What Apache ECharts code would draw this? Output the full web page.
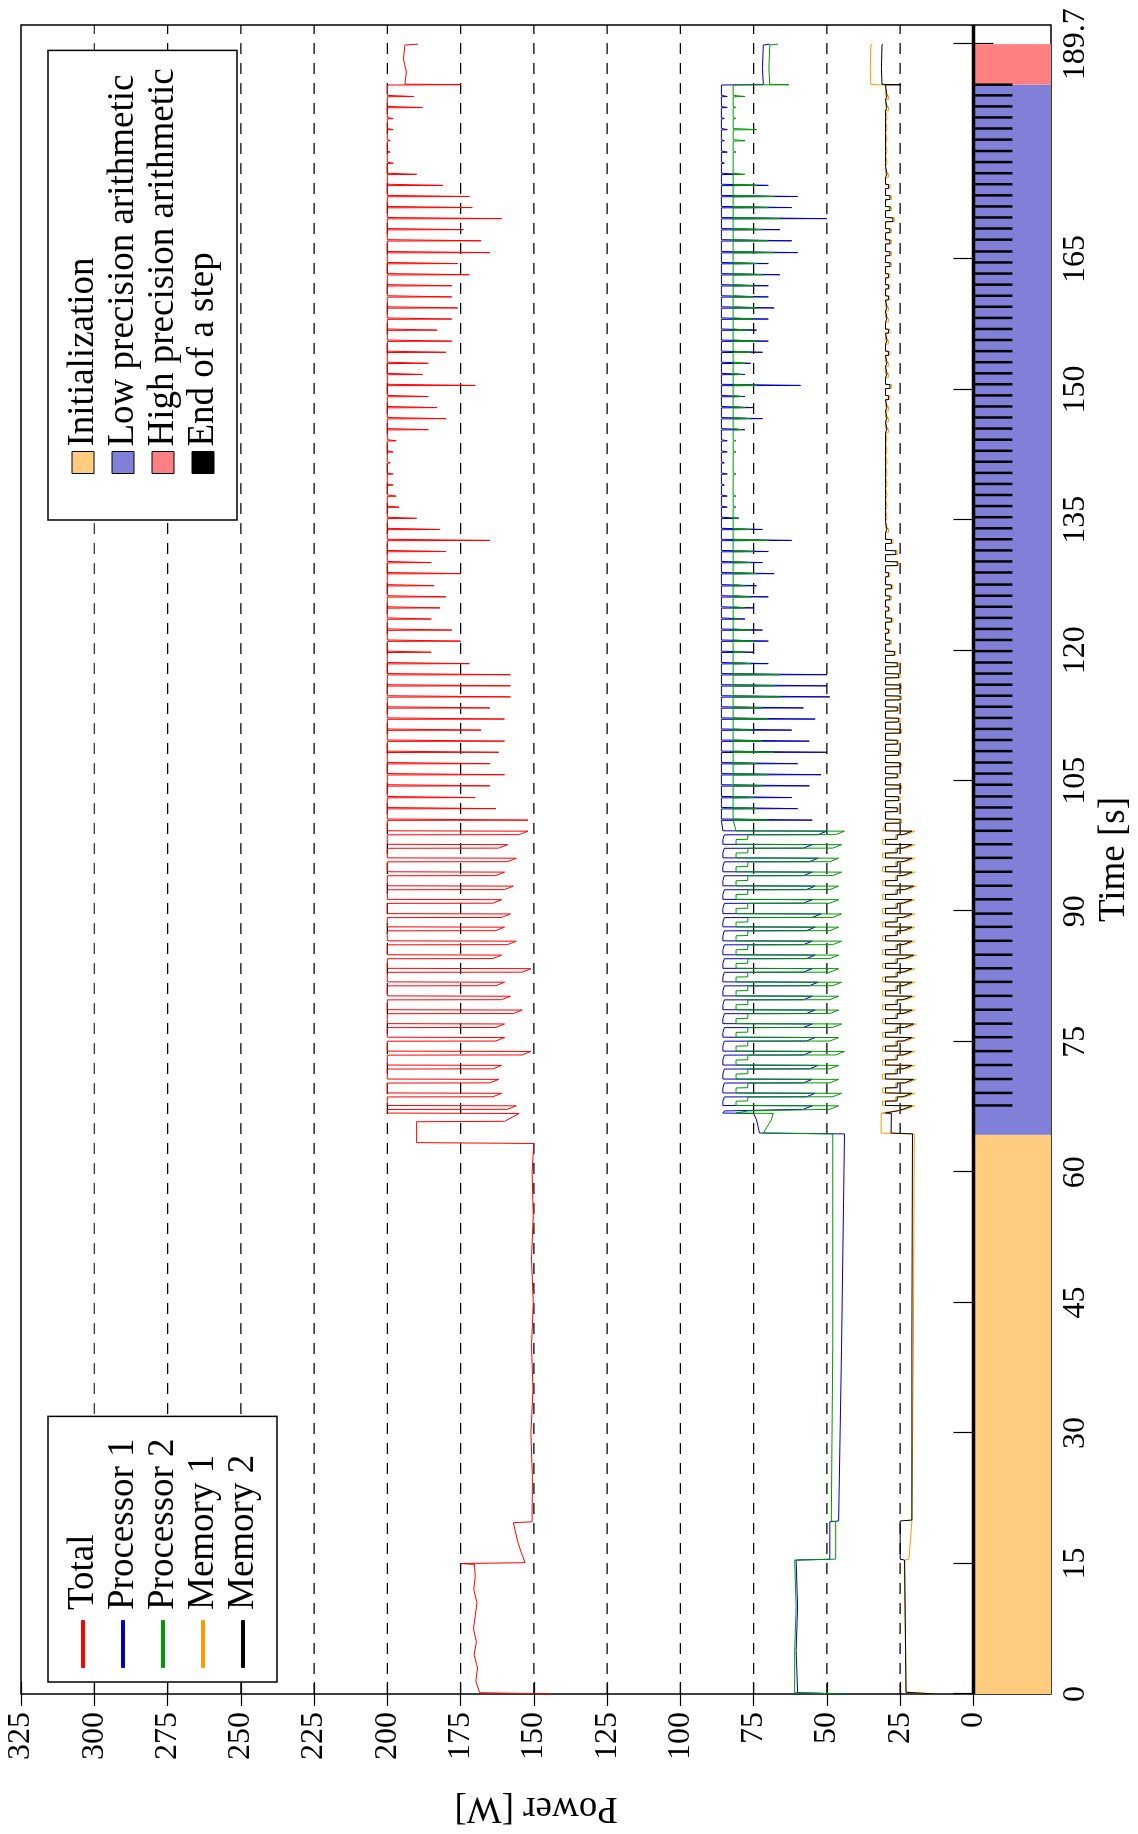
<!DOCTYPE html>
<html>
<head>
<meta charset="utf-8">
<script src="https://cdn.jsdelivr.net/npm/echarts@6/dist/echarts.min.js"></script>
<style>
  html, body { margin: 0; padding: 0; background: #fff; overflow: hidden; }
  #wrap { position: absolute; left: 0; top: 0; width: 1138px; height: 1834px; overflow: hidden; }
  /* the figure is drawn landscape and turned a quarter turn to the left */
  #main { position: absolute; left: 0; top: 0; width: 1834px; height: 1138px;
    transform-origin: 0 0; transform: translate(0, 1834px) rotate(-90deg); }
</style>
</head>
<body>
<div id="wrap"><div id="main"></div></div>
<script>
"use strict";

const timeTicks = [0, 15, 30, 45, 60, 75, 90, 105, 120, 135, 150, 165, 189.7];
const powerTicks = [0, 25, 50, 75, 100, 125, 150, 175, 200, 225, 250, 275, 300, 325];
const gridLevels = [25, 50, 75, 100, 125, 150, 175, 200, 225, 250, 275, 300];

// phase name, start [s], end [s], colour
const phases = [
  ["Initialization", 0, 64.3, "#ffcc80"],
  ["Low precision arithmetic", 64.3, 185.04, "#8080d8"],
  ["High precision arithmetic", 185.04, 189.7, "#ff8080"],
];

// end of each step [s]
const stepTimes = [
  67.67, 69.11, 70.71, 72.32, 73.92, 75.52, 77.08, 78.68, 80.27, 81.88, 83.44,
  85.0, 86.6, 88.21, 89.73, 91.37, 92.93, 94.54, 96.14, 97.7, 99.25,
  100.61, 101.93, 103.2, 104.55, 105.83, 107.1, 108.41, 109.69, 110.96, 112.23,
  113.51, 114.78, 116.05, 117.33, 118.6, 119.91, 121.19, 122.46, 123.73, 125.01,
  126.28, 127.56, 128.95, 130.22, 131.49, 132.77, 134.03, 135.31, 136.59, 137.86,
  139.13, 140.4, 141.68, 142.94, 144.22, 145.5, 146.77, 148.04, 149.31, 150.59,
  151.85, 153.13, 154.4, 155.68, 156.95, 158.22, 159.5, 160.77, 162.05, 163.32,
  164.6, 165.86, 167.22, 168.5, 169.77, 171.04, 172.31, 173.59, 174.86, 176.14,
  177.41, 178.72, 180.0, 181.27, 182.54, 183.81, 185.04,
];

// initialization phase, [t, W]
const totalInit = [
  [0, 144], [0.15, 168.5], [1.5, 169.8], [3, 169.2], [4.5, 170.4], [6, 169.6], [7.5, 170.6],
  [9, 170], [10.5, 169.4], [12, 170.5], [13.5, 170], [14.9, 170.3], [15.0, 175], [15.1, 153],
  [16, 154], [17.5, 155.5], [19.7, 157], [19.8, 150.6], [25, 150.5], [30, 151], [35, 150.3],
  [40, 150.8], [45, 150.2], [50, 150.8], [55, 150.2], [60, 150.6], [63.3, 150], [63.4, 190],
  [65.8, 190], [65.85, 160], [66.75, 155], [66.8, 200],
];
const proc1Init = [
  [0, 43], [0.15, 60], [5, 60.5], [10, 60], [15.4, 60.5], [15.5, 49], [19.8, 49], [19.9, 46],
  [40, 45], [64.4, 44], [64.5, 73], [66, 74], [66.75, 75], [66.8, 85.5],
];
const proc2Init = [
  [0, 43], [0.15, 61], [5, 61], [10, 60.5], [15.4, 61], [15.5, 47], [19.8, 47], [19.9, 48.5],
  [40, 48], [64.4, 48], [64.5, 71.7], [66, 69], [66.75, 68.3], [66.8, 81],
];
const mem1Init = [
  [0, 13], [0.2, 23], [15.4, 23.5], [15.5, 22], [19.9, 21], [40, 20.5], [64.4, 20.2],
  [64.5, 31.5], [66.75, 31.5], [66.8, 30],
];
const mem2Init = [
  [0, 13], [0.2, 23], [15.4, 23.5], [15.5, 25], [19.9, 25], [20, 21], [40, 21], [64.4, 20.8],
  [64.5, 28.1], [66.75, 28], [66.8, 30],
];

// compute steps: levels in a step (first part, second part) and value at the step's end
const totalLevelEarly = [200, 200];
const totalLevelLate = 200;
const totalDipEarly = [156, 161, 162, 161, 151, 160, 160, 154, 158, 160, 151, 161, 156, 160, 158, 161, 157, 160, 156, 159, 152];
const totalDipLate = [
  152, 163, 170, 165, 160, 165, 162, 160, 168, 160, 165, 158, 158, 158, 172, 185, 175, 178, 185, 182,
  180, 184, 175, 185, 180, 165, 182, 190, 196, 197, 198, 198, 199, 198, 197, 186, 180, 183, 186, 170,
  188, 186, 180, 178, 183, 178, 176, 178, 178, 172, 176, 165, 168, 174, 161, 171, 172, 181, 190, 198,
  199, 199, 198, 198, 188, 191,
];
const proc1LevelEarly = [85.5, 85];
const proc1LevelLate = 86;
const proc1DipEarly = [55, 54, 55, 53, 55, 54, 55, 54, 55, 53, 55, 54, 55, 54, 52, 55, 54, 55, 53, 55, 50];
const proc1DipLate = [
  55, 60, 62, 56, 52, 60, 50, 56, 62, 54, 58, 49, 50, 50, 70, 75, 70, 72, 78, 75,
  70, 74, 68, 72, 70, 62, 72, 80, 84, 84, 85, 84, 85, 84, 84, 78, 72, 75, 78, 59,
  78, 76, 72, 70, 74, 70, 68, 70, 70, 66, 70, 60, 62, 66, 50, 62, 60, 70, 80, 85,
  84, 85, 84, 85, 84, 84,
];
const proc2LevelEarly = [81, 77];
const proc2LevelLate = 82;
const proc2DipEarly = [46, 45, 46, 46, 44, 46, 45, 46, 46, 45, 46, 46, 45, 46, 45, 46, 46, 45, 46, 45, 44];
const proc2DipLate = [
  70, 74, 75, 72, 70, 74, 68, 72, 75, 70, 72, 66, 68, 66, 76, 78, 75, 76, 80, 78,
  76, 78, 74, 76, 75, 70, 76, 80, 81, 81, 82, 81, 82, 81, 81, 79, 76, 78, 79, 74,
  79, 78, 76, 74, 77, 75, 74, 75, 75, 72, 74, 68, 70, 72, 66, 70, 68, 74, 78, 82,
  81, 78, 74, 81, 81, 78,
];
const memLevelEarly = [30, 26];
const memLevelLate = 30;
const memDipEarly = [21, 21, 20.5, 21, 21, 21, 20.5, 21, 21, 21, 21, 20.5, 21, 21, 21, 21, 20.5, 21, 21, 21, 21];
const memDipLate = [
  25, 26, 25.5, 25, 26, 25, 25.5, 26, 25, 25.5, 26, 25, 25, 25.5, 26, 27,
  28.5, 29, 28, 29, 28.5, 28, 29, 26, 26.5, 28,
  29.5, 30, 30, 30, 30, 30, 30, 30, 30, 29.5, 29.5, 29.5, 29,
  28.5, 29.5, 29.5, 29, 29.5, 29, 29.5, 29.5, 29, 29, 29, 28.5, 28.5,
  28.5, 28.5, 27.5, 28.5, 28.5, 29, 29.5, 30, 30, 30, 30, 30, 29.5, 29.5,
];

// high precision phase, [t, W]
const totalHigh = [[185.0, 200], [185.04, 175], [185.1, 194], [186.5, 193.5], [188, 194.5], [189.6, 194], [189.7, 189.5]];
const proc1High = [[185.0, 86], [185.06, 71.7], [187, 72], [189.6, 71.7], [189.7, 69.5]];
const proc2High = [[185.0, 82], [185.03, 63], [185.08, 69.5], [187, 69.8], [189.6, 69.5], [189.7, 66.6]];
const mem1High = [[185.0, 30], [185.06, 35], [187, 35.2], [189.6, 35], [189.7, 34.5]];
const mem2High = [[185.0, 30], [185.03, 24.7], [185.08, 31.2], [187, 31.4], [189.6, 31.2], [189.7, 31]];

const timeMax = 191.9;
const powerMin = -26.5;
const powerMax = 325;
const tickDepth = -13.3;
const FONT = "Liberation Serif";

function stepTrace(startT, levelEarly, levelLate, dipEarly, dipLate, lateWidth) {
  const pts = [];
  let prev = startT;
  for (let i = 0; i < stepTimes.length - 1; i++) {
    const t = stepTimes[i];
    if (i < dipEarly.length) {
      const d = dipEarly[i];
      const mid = (prev + t - 0.45) / 2;
      pts.push([prev + 0.04, levelEarly[0]], [mid, levelEarly[0]], [mid + 0.03, levelEarly[1]],
        [t - 0.46, levelEarly[1]], [t - 0.44, d + 3], [t - 0.04, d], [t, levelEarly[0]]);
    } else {
      const d = dipLate[i - dipEarly.length];
      pts.push([t - lateWidth, levelLate], [t - lateWidth + 0.03, d], [t - 0.04, d], [t, levelLate]);
    }
    prev = t;
  }
  return pts;
}

const totalData = totalInit.concat(stepTrace(66.8, totalLevelEarly, totalLevelLate, totalDipEarly, totalDipLate, 0.16), totalHigh);
const proc1Data = proc1Init.concat(stepTrace(66.8, proc1LevelEarly, proc1LevelLate, proc1DipEarly, proc1DipLate, 0.16), proc1High);
const proc2Data = proc2Init.concat(stepTrace(66.8, proc2LevelEarly, proc2LevelLate, proc2DipEarly, proc2DipLate, 0.16), proc2High);
const mem1Data = mem1Init.concat(stepTrace(66.8, [31, 26.5], memLevelLate, memDipEarly.map(v => v - 1), memDipLate.map(v => v - 0.5), 0.5), mem1High);
const mem2Data = mem2Init.concat(stepTrace(66.8, memLevelEarly, memLevelLate, memDipEarly, memDipLate, 0.5), mem2High);

function lineSeries(name, color, data) {
  return {
    name: name, type: "line", data: data, showSymbol: false, symbol: "none",
    sampling: null, animation: false, z: 5,
    lineStyle: { color: color, width: 1 }, itemStyle: { color: color },
  };
}

const phaseSeries = phases.map(function (p) {
  return {
    name: p[0], type: "custom", silent: true, z: 2, animation: false,
    itemStyle: { color: p[3] },
    data: [[p[1], p[2]]],
    encode: { x: [0, 1] },
    renderItem: function (params, api) {
      const a = api.coord([api.value(0), 0]);
      const b = api.coord([api.value(1), powerMin]);
      return {
        type: "rect",
        shape: { x: a[0], y: a[1], width: b[0] - a[0], height: b[1] - a[1] },
        style: { fill: p[3] },
      };
    },
  };
});

var chartDom = document.getElementById("main");
var myChart = echarts.init(chartDom, null, { renderer: "canvas" });

var option = {
  backgroundColor: "#fff",
  animation: false,
  grid: { left: 140, right: 25, top: 21, bottom: 82, show: true, borderColor: "#000", borderWidth: 1.5, backgroundColor: "transparent" },
  legend: [
    {
      data: ["Total", "Processor 1", "Processor 2", "Memory 1", "Memory 2"],
      orient: "vertical", left: 152, top: 48, itemGap: 0,
      itemWidth: 48, itemHeight: 4, icon: "roundRect", selectedMode: false,
      backgroundColor: "#fff", borderColor: "#000", borderWidth: 1.5, borderRadius: 0,
      padding: [15, 22, 14, 14],
      textStyle: { fontFamily: FONT, fontSize: 37, lineHeight: 40, color: "#000", padding: [0, 0, 0, 5] },
    },
    {
      data: phases.map(p => p[0]).concat(["End of a step"]),
      orient: "vertical", left: 1314, top: 48, itemGap: 0,
      itemWidth: 22, itemHeight: 22, icon: "rect", selectedMode: false,
      itemStyle: { borderColor: "#000", borderWidth: 1 },
      backgroundColor: "#fff", borderColor: "#000", borderWidth: 1.5, borderRadius: 0,
      padding: [15, 18, 14, 46],
      textStyle: { fontFamily: FONT, fontSize: 37, lineHeight: 40, color: "#000" },
    },
  ],
  xAxis: [
    {
      type: "value", min: 0, max: timeMax, position: "bottom",
      axisLine: { show: false },
      axisTick: { inside: true, length: 20, customValues: timeTicks, lineStyle: { color: "#000", width: 1.2 } },
      axisLabel: { customValues: timeTicks, fontFamily: FONT, fontSize: 32, color: "#000", margin: 8 },
      splitLine: { show: false },
      name: "Time [s]", nameLocation: "middle", nameGap: 42,
      nameTextStyle: { fontFamily: FONT, fontSize: 37, color: "#000" },
    },
    {
      type: "value", min: 0, max: timeMax, position: "top",
      axisLine: { show: false },
      axisTick: { inside: true, length: 20, customValues: timeTicks, lineStyle: { color: "#000", width: 1.2 } },
      axisLabel: { show: false }, splitLine: { show: false },
    },
  ],
  yAxis: [
    {
      type: "value", min: powerMin, max: powerMax, position: "left",
      axisLine: { show: false },
      axisTick: { inside: true, length: 12, customValues: powerTicks, lineStyle: { color: "#000", width: 1.2 } },
      axisLabel: { customValues: powerTicks, fontFamily: FONT, fontSize: 32, color: "#000", margin: 18 },
      splitLine: { show: false },
      name: "Power [W]", nameLocation: "middle", nameGap: 95,
      nameTextStyle: { fontFamily: FONT, fontSize: 37, color: "#000" },
    },
    {
      type: "value", min: powerMin, max: powerMax, position: "right",
      axisLine: { show: false },
      axisTick: { inside: true, length: 12, customValues: powerTicks, lineStyle: { color: "#000", width: 1.2 } },
      axisLabel: { show: false }, splitLine: { show: false },
    },
  ],
  series: phaseSeries.concat([
    {
      name: "End of a step", type: "custom", silent: true, z: 3, animation: false,
      itemStyle: { color: "#000" },
      data: stepTimes.map(t => [t, 0]),
      renderItem: function (params, api) {
        const a = api.coord([api.value(0), 0]);
        const b = api.coord([api.value(0), tickDepth]);
        return { type: "line", shape: { x1: a[0], y1: a[1], x2: b[0], y2: b[1] }, style: { stroke: "#000", lineWidth: 2.5 } };
      },
    },
    {
      name: "levels", type: "custom", silent: true, z: 1, animation: false,
      data: gridLevels.map(v => [0, v]),
      renderItem: function (params, api) {
        const a = api.coord([0, api.value(1)]);
        const b = api.coord([timeMax, api.value(1)]);
        return { type: "line", shape: { x1: a[0], y1: a[1], x2: b[0], y2: b[1] }, style: { stroke: "#000", lineWidth: 1.2, lineDash: [11, 9] } };
      },
    },
    {
      name: "zero", type: "custom", silent: true, z: 4, animation: false,
      data: [[0, 0]],
      renderItem: function (params, api) {
        const a = api.coord([0, 0]);
        const b = api.coord([timeMax, 0]);
        return { type: "line", shape: { x1: a[0], y1: a[1], x2: b[0], y2: b[1] }, style: { stroke: "#000", lineWidth: 3.5 } };
      },
    },
    lineSeries("Memory 1", "#ff9900", mem1Data),
    lineSeries("Memory 2", "#000000", mem2Data),
    lineSeries("Processor 1", "#0000c0", proc1Data),
    lineSeries("Processor 2", "#009900", proc2Data),
    lineSeries("Total", "#ff0000", totalData),
  ]),
};

option && myChart.setOption(option);
</script>
</body>
</html>
